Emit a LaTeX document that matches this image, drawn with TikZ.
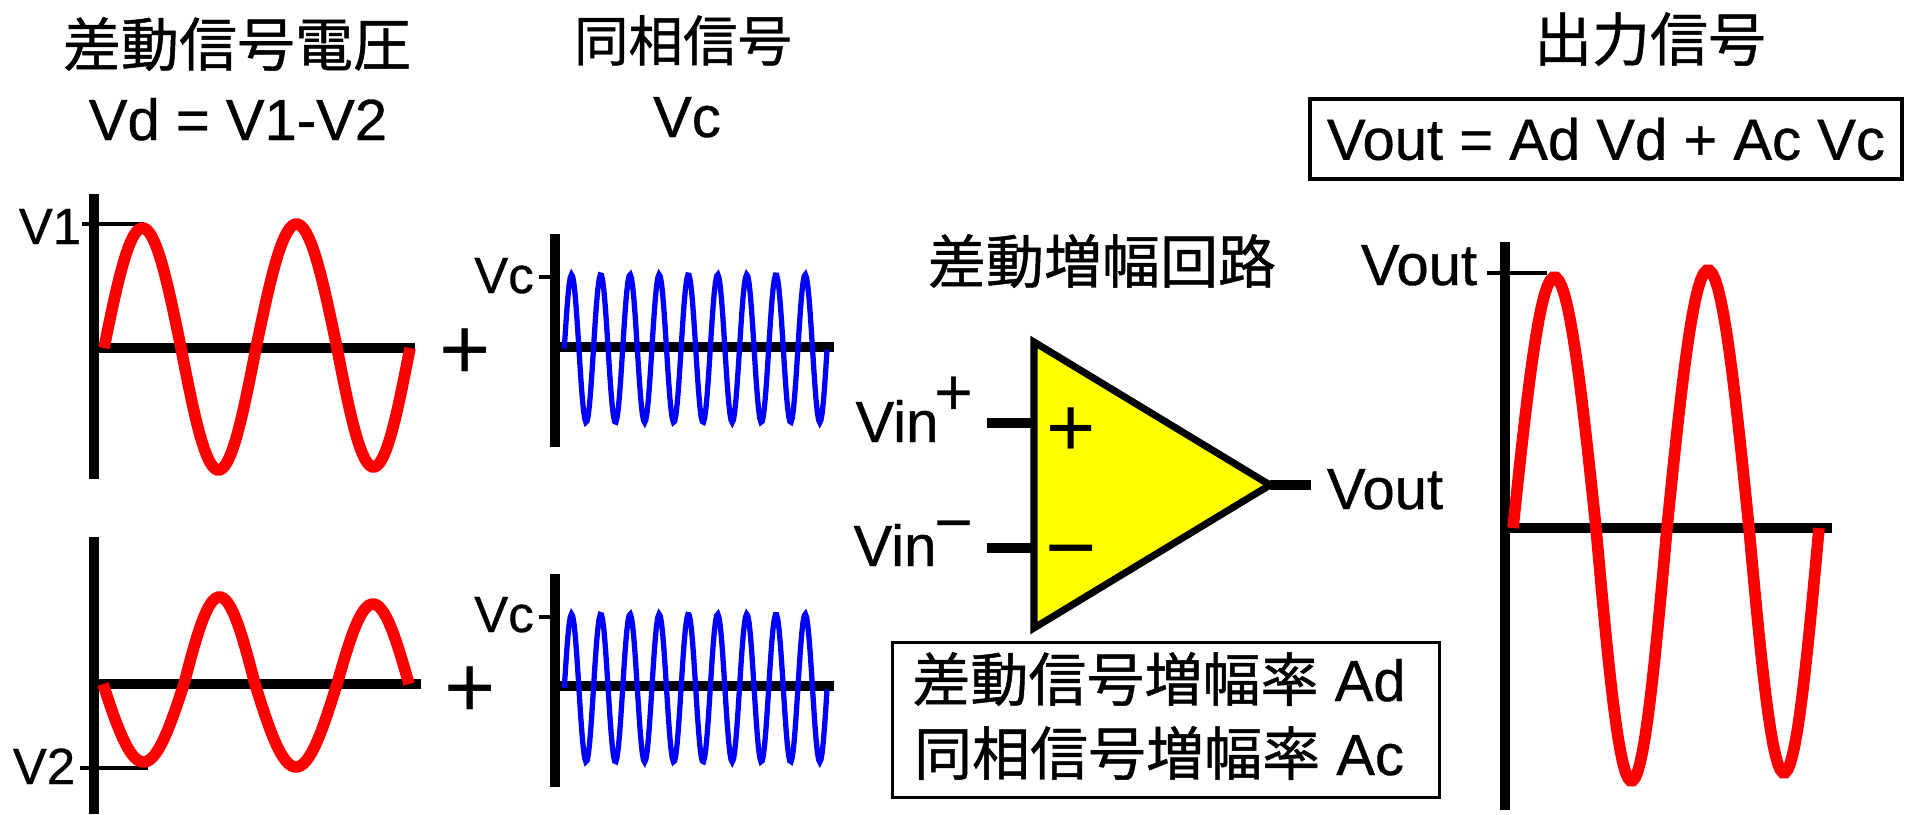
\documentclass[tikz,border=0pt]{standalone}
\usepackage{fontspec}
\setmainfont[FakeBold=0.6]{Liberation Sans}
\newfontfamily\cjk[FakeBold=0.8]{Noto Sans CJK JP}
\newfontfamily\signfont{Liberation Sans}
\usetikzlibrary{positioning}
\definecolor{sigred}{RGB}{255,0,0}
\definecolor{sigblue}{RGB}{0,0,255}
\definecolor{ampfill}{RGB}{255,255,0}
\newcommand{\txtbig}{\fontsize{16.5}{21}\selectfont}
\newcommand{\txtsmall}{\fontsize{14.5}{18}\selectfont}
% half-waves: start/end/amplitude
\newcommand{\sinewave}[2]{%
  \foreach \xa/\xb/\amp in {#2}
    \draw[redwave, domain=\xa:\xb, samples=30] plot (\x, {#1-\amp*sin((\x-\xa)/(\xb-\xa)*180)});
}
\newcommand{\carrier}[1]{%
  \draw[bluewave, domain=564.3:827, samples=220] plot (\x, {#1-74*sin((\x-564.3)*12.3288)});
}

\begin{document}
\begin{tikzpicture}[
    x=0.01cm, y=-0.01cm,
    axisline/.style={line width=2.85pt},
    tickline/.style={line width=1pt},
    leadline/.style={line width=2.85pt},
    redwave/.style={draw=sigred, line width=3.3pt},
    bluewave/.style={draw=sigblue, line width=1.5pt},
    heading/.style={anchor=base, inner sep=0pt, font=\txtbig\cjk},
    bigtext/.style={anchor=base, inner sep=0pt, font=\txtbig},
    smalltext/.style={anchor=base, inner sep=0pt, font=\txtsmall},
    signtext/.style={inner sep=0pt, font=\signfont\fontsize{#1}{#1}\selectfont},
    box/.style={rectangle, draw, line width=1pt, minimum width=#1, inner sep=0pt, align=center, font=\txtbig}
]
\useasboundingbox (0,0) rectangle (1905,814);
% headings
\node[heading] (headdiff) at (237,66) {差動信号電圧};
\node[bigtext] (eqdiff) at (238,140) {Vd = V1-V2};
\node[heading, font=\fontsize{15.5}{18}\selectfont\cjk] (headcom) at (683,61) {同相信号};
\node[bigtext] (eqcom) at (687,137) {Vc};
\node[heading] (headamp) at (1102,283) {差動増幅回路};
\node[heading] (headout) at (1650,61) {出力信号};
\node[box=5.92cm, minimum height=0.80cm] (eqout) at (1606,139) {Vout = Ad Vd + Ac Vc};

% V1 and V2
\draw[axisline] (94,194) -- (94,479);
\draw[axisline] (94,348) -- (415,348);
\draw[tickline] (82,224) -- (144,224);
\sinewave{348}{104/181/120, 181/256/-122, 256/337/124, 337/410/-119}
\node[smalltext] (vone) at (50,244) {V1};
\node[signtext=25] (plusone) at (465,354) {+};

\draw[axisline] (94,537) -- (94,814);
\draw[axisline] (94,684) -- (421,684);
\draw[tickline] (80,768) -- (148,768);
\sinewave{684}{103/184/-78, 184/255/87, 255/337/-83, 337/409/80}
\node[smalltext] (vtwo) at (44,784) {V2};
\node[signtext=25] (plustwo) at (470,692) {+};

% common mode
\draw[axisline] (555,234) -- (555,447);
\draw[axisline] (555,347) -- (834,347);
\draw[tickline] (539,277) -- (555,277);
\carrier{348.5}
\node[smalltext] (vcone) at (504,293) {Vc};

\draw[axisline] (555,574) -- (555,787);
\draw[axisline] (555,686) -- (834,686);
\draw[tickline] (539,617) -- (555,617);
\carrier{688}
\node[smalltext] (vctwo) at (504,632) {Vc};

% amplifier
\coordinate (amptop) at (1034,342);
\coordinate (ampbot) at (1034,628);
\coordinate (ampout) at (1270,485);
\coordinate (pinplus) at (1034,423);
\coordinate (pinminus) at (1034,548);
\coordinate (leadplus) at (987,423);
\coordinate (leadminus) at (987,548);
\coordinate (leadout) at (1311,485);
\draw[leadline] (leadplus) -- (pinplus);
\draw[leadline] (leadminus) -- (pinminus);
\draw[leadline] (ampout) -- (leadout);
\draw[fill=ampfill, line width=2pt] (amptop) -- (ampbot) -- (ampout) -- cycle;
\node[signtext=24] (inplus) at (1071,432) {+};
\node[signtext=25] (inminus) at (1071,561) {−};
\node[bigtext] (vinp) at (897,442) {Vin};
\node[signtext=19] (supplus) at (954,396) {+};
\node[bigtext] (vinm) at (895,566) {Vin};
\node[signtext=19] (supminus) at (954,533) {−};
\node[bigtext] (voutamp) at (1385,509) {Vout};
\node[box=5.47cm, minimum height=1.55cm] (gains) at (1166,720) {};
\node[bigtext] (gaindiff) at (1159,701) {{\cjk 差動信号増幅率} Ad};
\node[bigtext] (gaincom) at (1159,775) {{\cjk 同相信号増幅率} Ac};

% output
\draw[axisline] (1505,242) -- (1505,810);
\draw[axisline] (1505,528) -- (1832,528);
\draw[tickline] (1487,273) -- (1547,273);
\sinewave{528}{1513/1596/251, 1596/1667/-253, 1667/1749/258, 1749/1819/-245}
\node[bigtext] (voutsig) at (1419,285) {Vout};
\end{tikzpicture}
\end{document}
